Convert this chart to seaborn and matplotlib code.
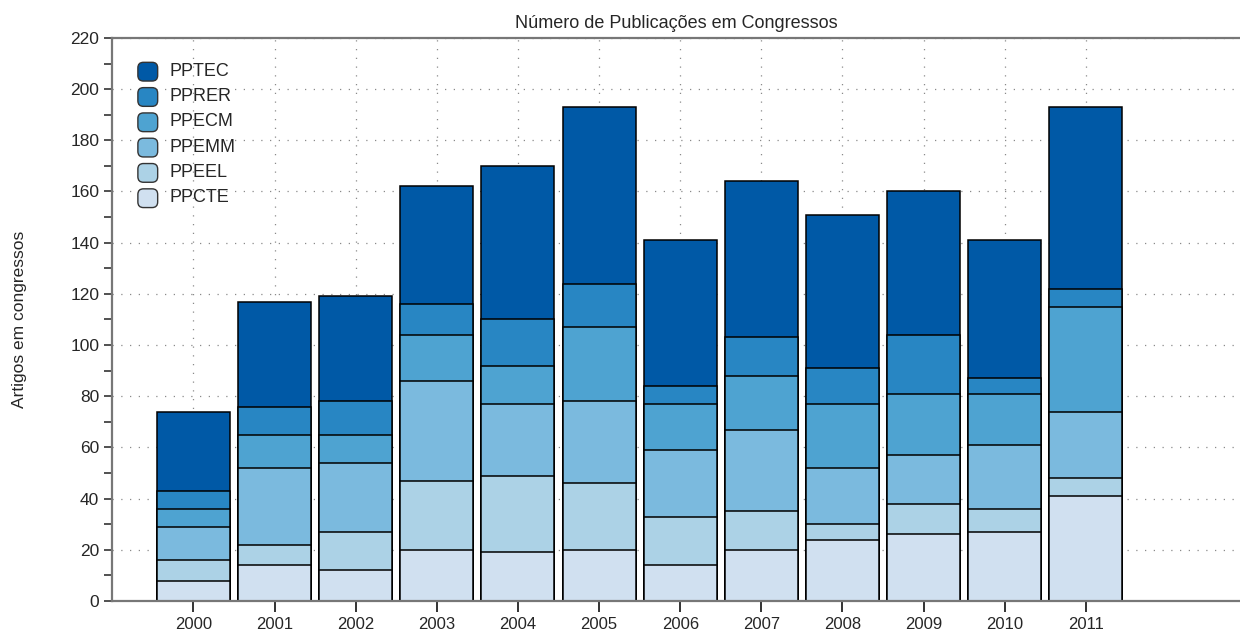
import pandas as pd
import matplotlib
matplotlib.use("Agg")
import matplotlib.pyplot as plt
import seaborn as sns
from matplotlib.patches import Patch, FancyBboxPatch
from matplotlib.legend_handler import HandlerPatch
from matplotlib.ticker import MultipleLocator

# dados
anos = [2000, 2001, 2002, 2003, 2004, 2005, 2006, 2007, 2008, 2009, 2010, 2011]
ppcte = [8, 14, 12, 20, 19, 20, 14, 20, 24, 26, 27, 41]
ppeel = [8, 8, 15, 27, 30, 26, 19, 15, 6, 12, 9, 7]
ppemm = [13, 30, 27, 39, 28, 32, 26, 32, 22, 19, 25, 26]
ppecm = [7, 13, 11, 18, 15, 29, 18, 21, 25, 24, 20, 41]
pprer = [7, 11, 13, 12, 18, 17, 7, 15, 14, 23, 6, 7]
pptec = [31, 41, 41, 46, 60, 69, 57, 61, 60, 56, 54, 71]

programas = ["PPCTE", "PPEEL", "PPEMM", "PPECM", "PPRER", "PPTEC"]
cores = {
    "PPCTE": "#D0E0F0",
    "PPEEL": "#ACD2E6",
    "PPEMM": "#7BBADE",
    "PPECM": "#4EA3D1",
    "PPRER": "#2886C3",
    "PPTEC": "#0059A6",
}

df = pd.DataFrame({"ano": [str(a) for a in anos], "PPCTE": ppcte, "PPEEL": ppeel,
                   "PPEMM": ppemm, "PPECM": ppecm, "PPRER": pprer, "PPTEC": pptec})
acum = df[programas].cumsum(axis=1)

sns.set_style("white")
plt.rcParams['font.family'] = ['Liberation Sans', 'DejaVu Sans']

fig = plt.figure(figsize=(12.4, 6.32), dpi=100)
ax = fig.add_axes([0.0906, 0.049, 0.9094, 0.891])

# barras empilhadas: desenha o acumulado de cima para baixo
for prog in reversed(programas):
    sns.barplot(x=df["ano"], y=acum[prog], color=cores[prog], saturation=1,
                edgecolor="black", linewidth=1.1, width=0.9, ax=ax, zorder=2)

ax.set_xlim(-1, 12.9)
ax.set_ylim(0, 220)
ax.yaxis.set_major_locator(MultipleLocator(20))
ax.yaxis.set_minor_locator(MultipleLocator(10))

ax.set_axisbelow(True)
ax.grid(True, which="major", axis="both", color="#8a8a8a", linestyle=(0, (1, 6)), linewidth=0.9)

for lado in ["left", "bottom", "top"]:
    ax.spines[lado].set_color("#777777")
    ax.spines[lado].set_linewidth(1.6)
ax.spines["right"].set_visible(False)

ax.tick_params(axis="y", which="major", direction="out", length=6, width=1.2, color="#333333",
               labelsize=12.5, left=True)
ax.tick_params(axis="y", which="minor", direction="out", length=6, width=1.2, color="#333333", left=True)
ax.tick_params(axis="x", which="major", direction="out", length=8, width=1.4, color="#333333",
               labelsize=12, bottom=True)

ax.set_xlabel("")
ax.set_ylabel("Artigos em congressos", fontsize=12.5)
ax.yaxis.set_label_coords(-0.076, 0.5)
ax.set_title("Número de Publicações em Congressos", fontsize=13, pad=7)


class RoundHandler(HandlerPatch):
    def create_artists(self, legend, orig_handle, xdescent, ydescent, width, height, fontsize, trans):
        p = FancyBboxPatch((-xdescent + 1, -ydescent - 2), width - 2, height + 1,
                           boxstyle="round,pad=0,rounding_size=4",
                           fc=orig_handle.get_facecolor(), ec="#333333", lw=1.0)
        p.set_transform(trans)
        return [p]


handles = [Patch(facecolor=cores[p], label=p) for p in reversed(programas)]
ax.legend(handles=handles, loc="upper left", bbox_to_anchor=(0.007, 0.988), frameon=False,
          fontsize=13, handlelength=1.25, handleheight=1.1, handletextpad=0.6, labelspacing=0.36,
          handler_map={Patch: RoundHandler()})

fig.savefig("out.png", dpi=100)
